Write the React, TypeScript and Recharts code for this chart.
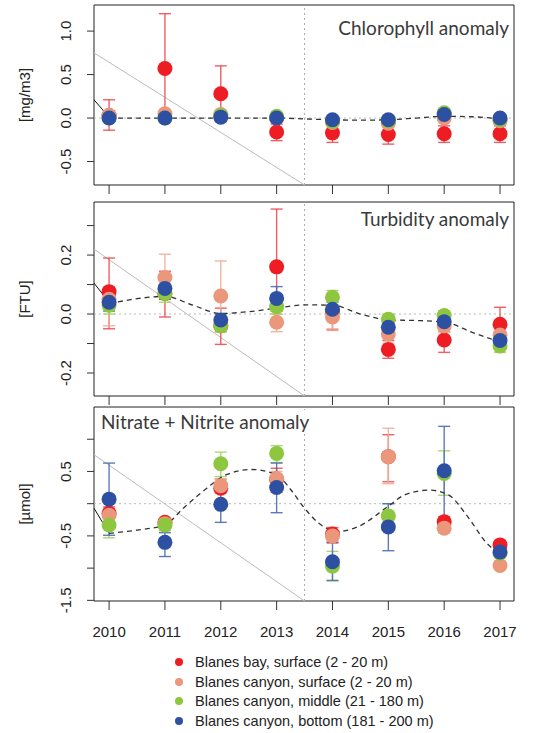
import React from "react";
import { ComposedChart, Scatter, Line, XAxis, YAxis, ErrorBar, ReferenceLine, ReferenceArea } from "recharts";

document.body.style.margin = "0";

const YEARS = [2010, 2011, 2012, 2013, 2014, 2015, 2016, 2017];
const X_DOMAIN = [2009.73, 2017.25];

const SERIES_NAMES = [
  "Blanes bay, surface (2 - 20 m)",
  "Blanes canyon, surface (2 - 20 m)",
  "Blanes canyon, middle (21 - 180 m)",
  "Blanes canyon, bottom (181 - 200 m)",
];
const COLORS = ["#EE1D24", "#EA977B", "#8DC63F", "#2E50A2"];
const ERR_COLORS = ["#EF4C52", "#F0AE98", "#A3D266", "#4D6CB4"];

// Chlorophyll anomaly [mg/m3]
const chlBay = [0.03, 0.57, 0.28, -0.16, -0.17, -0.19, -0.18, -0.18];
const chlBayLow = [-0.14, -0.05, -0.04, -0.26, -0.28, -0.3, -0.28, -0.28];
const chlBayHigh = [0.21, 1.2, 0.6, -0.07, -0.08, -0.1, -0.09, -0.09];
const chlCanSurf = [0.03, 0.05, 0.04, 0.0, -0.05, -0.06, 0.0, -0.03];
const chlCanSurfLow = [0.0, 0.01, 0.0, -0.03, -0.08, -0.1, -0.04, -0.06];
const chlCanSurfHigh = [0.06, 0.09, 0.08, 0.03, -0.02, -0.02, 0.04, 0.0];
const chlCanMid = [0.0, 0.0, 0.03, 0.02, -0.04, -0.03, 0.06, -0.02];
const chlCanMidLow = [-0.02, -0.02, 0.0, 0.0, -0.06, -0.05, 0.03, -0.04];
const chlCanMidHigh = [0.02, 0.02, 0.06, 0.04, -0.02, -0.01, 0.09, 0.0];
const chlCanBot = [0.0, 0.0, 0.01, 0.0, -0.02, -0.02, 0.04, 0.0];
const chlCanBotLow = [-0.02, -0.02, -0.01, -0.02, -0.04, -0.04, 0.02, -0.02];
const chlCanBotHigh = [0.02, 0.02, 0.03, 0.02, 0.0, 0.0, 0.06, 0.02];
const chlTrendX = [2010, 2011, 2012, 2013, 2013.5, 2014, 2014.5, 2015, 2015.5, 2016, 2016.5, 2017];
const chlTrendY = [0.0, 0.0, 0.0, 0.0, -0.01, -0.02, -0.025, -0.02, 0.0, 0.02, 0.015, -0.01];

// Turbidity anomaly [FTU]
const turBay = [0.076, 0.07, -0.04, 0.16, 0.01, -0.12, -0.088, -0.035];
const turBayLow = [-0.05, -0.01, -0.103, -0.035, -0.054, -0.15, -0.13, -0.07];
const turBayHigh = [0.19, 0.145, 0.02, 0.356, 0.059, -0.09, -0.06, 0.023];
const turCanSurf = [0.05, 0.124, 0.061, -0.028, -0.01, -0.068, -0.04, -0.071];
const turCanSurfLow = [-0.04, 0.05, -0.06, -0.06, -0.05, -0.1, -0.06, -0.09];
const turCanSurfHigh = [0.08, 0.203, 0.18, 0.0, 0.03, -0.04, -0.02, -0.05];
const turCanMid = [0.03, 0.07, -0.04, 0.025, 0.057, -0.018, -0.005, -0.108];
const turCanMidLow = [0.0, 0.04, -0.06, 0.0, 0.03, -0.04, -0.03, -0.13];
const turCanMidHigh = [0.065, 0.1, -0.01, 0.06, 0.08, 0.0, 0.01, -0.09];
const turCanBot = [0.04, 0.087, -0.02, 0.053, 0.016, -0.045, -0.026, -0.09];
const turCanBotLow = [0.01, 0.05, -0.04, 0.01, -0.01, -0.07, -0.045, -0.11];
const turCanBotHigh = [0.07, 0.12, 0.0, 0.093, 0.04, -0.02, -0.01, -0.07];
const turTrendX = [2010, 2010.5, 2011, 2011.5, 2012, 2012.5, 2013, 2013.5, 2014, 2014.5, 2015, 2015.5, 2016, 2016.5, 2017];
const turTrendY = [0.035, 0.052, 0.06, 0.03, 0.002, 0.008, 0.02, 0.031, 0.03, 0.0, -0.02, -0.022, -0.027, -0.062, -0.095];

// Nitrate + Nitrite anomaly [umol]
const nitBay = [-0.15, -0.29, 0.24, 0.38, -0.47, 0.73, -0.28, -0.64];
const nitBayLow = [-0.3, -0.38, 0.18, 0.18, -0.61, 0.34, -0.36, -0.7];
const nitBayHigh = [-0.05, -0.24, 0.38, 0.55, -0.37, 1.07, -0.2, -0.58];
const nitCanSurf = [-0.18, -0.31, 0.28, 0.39, -0.5, 0.73, -0.38, -0.96];
const nitCanSurfLow = [-0.28, -0.38, 0.16, 0.25, -0.58, 0.31, -0.45, -1.0];
const nitCanSurfHigh = [-0.08, -0.24, 0.38, 0.5, -0.42, 1.17, -0.3, -0.92];
const nitCanMid = [-0.33, -0.33, 0.62, 0.78, -0.97, -0.19, 0.47, -0.77];
const nitCanMidLow = [-0.53, -0.42, 0.42, 0.64, -1.2, -0.4, 0.13, -0.82];
const nitCanMidHigh = [-0.15, -0.25, 0.8, 0.9, -0.74, 0.0, 0.82, -0.72];
const nitCanBot = [0.07, -0.6, -0.01, 0.25, -0.9, -0.36, 0.51, -0.75];
const nitCanBotLow = [-0.49, -0.82, -0.29, -0.14, -1.19, -0.73, -0.22, -0.8];
const nitCanBotHigh = [0.63, -0.45, 0.24, 0.63, -0.6, 0.0, 1.2, -0.7];
const nitTrendX = [2010, 2010.5, 2011, 2011.33, 2011.75, 2012.1, 2012.55, 2013, 2013.25, 2013.5, 2013.75, 2014.1, 2014.45, 2015, 2015.3, 2015.73, 2016.07, 2016.42, 2016.77, 2017];
const nitTrendY = [-0.46, -0.41, -0.33, -0.07, 0.24, 0.45, 0.53, 0.45, 0.22, -0.07, -0.3, -0.43, -0.36, -0.04, 0.14, 0.21, 0.14, -0.2, -0.62, -0.78];

const toPoints = (vals: number[], low: number[], high: number[]) =>
  YEARS.map((x, i) => ({ x, y: vals[i], err: [vals[i] - low[i], high[i] - vals[i]] }));
const toLine = (xs: number[], ys: number[]) => xs.map((x, i) => ({ x, y: ys[i] }));

const FONT = "'Liberation Sans', Arial, sans-serif";

interface PanelProps {
  top: number;
  height: number;
  xAxisHeight: number;
  showXLabels: boolean;
  yDomain: number[];
  yTicks: number[];
  yLabels: number[];
  unit: string;
  series: { x: number; y: number; err: number[] }[][];
  trend: { x: number; y: number }[];
  diag: number[];
  black: number[];
}

function Panel(p: PanelProps) {
  const plotTop = 5;
  const plotBottom = p.height - p.xAxisHeight;
  const [y0, y1] = p.yDomain;

  const yTick = (props: any) => {
    const v = props.payload.value;
    const show = p.yLabels.some((l) => Math.abs(l - v) < 1e-9);
    if (!show) return <g />;
    return (
      <text x={71} y={props.y} transform={`rotate(-90 71 ${props.y})`} textAnchor="middle"
        fontSize={15} fontFamily={FONT} fill="#222">
        {v.toFixed(1)}
      </text>
    );
  };

  const xTick = (props: any) => {
    if (!p.showXLabels) return <g />;
    return (
      <text x={props.x} y={props.y} dy={23} textAnchor="middle" fontSize={15} fontFamily={FONT} fill="#222">
        {props.payload.value}
      </text>
    );
  };

  const cy = (plotTop + plotBottom) / 2;

  return (
    <div style={{ position: "absolute", left: 0, top: p.top }}>
      <ComposedChart width={534} height={p.height} margin={{ top: plotTop, right: 20, bottom: 0, left: 0 }}>
        <XAxis dataKey="x" type="number" domain={X_DOMAIN} ticks={YEARS} allowDataOverflow
          height={p.xAxisHeight} axisLine={false} tickSize={9} tickMargin={4}
          tickLine={{ stroke: "#333" }} tick={xTick} />
        <YAxis dataKey="y" type="number" domain={p.yDomain} ticks={p.yTicks} allowDataOverflow
          width={94} axisLine={false} tickSize={7} tickLine={{ stroke: "#333" }} tick={yTick}
          label={{
            content: () => (
              <text x={30} y={cy} transform={`rotate(-90 30 ${cy})`} textAnchor="middle"
                fontSize={15} fontFamily={FONT} fill="#222">
                {p.unit}
              </text>
            ),
          }} />
        <ReferenceLine y={0} stroke="#bbb" strokeDasharray="2 3" />
        <ReferenceLine x={2013.5} stroke="#aaa" strokeDasharray="2 3" />
        <ReferenceLine segment={[{ x: X_DOMAIN[0], y: p.diag[0] }, { x: 2013.5, y: p.diag[1] }]} stroke="#bbb" />
        <ReferenceLine segment={[{ x: X_DOMAIN[0], y: p.black[0] }, { x: 2010, y: p.black[1] }]} stroke="#111" />
        {p.series.map((data, i) => (
          <Scatter key={`m${i}`} name={SERIES_NAMES[i]} data={data} isAnimationActive={false}
            shape={(s: any) => <circle cx={s.cx} cy={s.cy} r={7.5} fill={COLORS[i]} />} />
        ))}
        {p.series.map((data, i) => (
          <Scatter key={`e${i}`} data={data} isAnimationActive={false} legendType="none"
            shape={() => <g />}>
            <ErrorBar dataKey="err" direction="y" width={6} stroke={ERR_COLORS[i]} strokeWidth={1.4} strokeOpacity={0.9} />
          </Scatter>
        ))}
        <Line data={p.trend} dataKey="y" type="monotone" stroke="#333" strokeWidth={1.3}
          strokeDasharray="5 4" dot={false} isAnimationActive={false} />
        <ReferenceArea x1={X_DOMAIN[0]} x2={X_DOMAIN[1]} y1={y0} y2={y1} fill="none" stroke="#222" strokeWidth={1} />
      </ComposedChart>
    </div>
  );
}

const titleStyle: React.CSSProperties = {
  position: "absolute",
  fontFamily: "Lato, 'Open Sans', sans-serif",
  fontSize: 19,
  color: "#3a3a3a",
  background: "rgba(255,255,255,0.9)",
  lineHeight: "24px",
  padding: "0 3px",
  whiteSpace: "nowrap",
};

export default function App() {
  return (
    <div style={{ position: "relative", width: 534, height: 733, background: "#fff", overflow: "hidden" }}>
      <Panel top={0} height={200} xAxisHeight={15} showXLabels={false}
        yDomain={[-0.77, 1.3]} yTicks={[-0.5, 0, 0.5, 1]} yLabels={[-0.5, 0, 0.5, 1]} unit="[mg/m3]"
        series={[
          toPoints(chlBay, chlBayLow, chlBayHigh),
          toPoints(chlCanSurf, chlCanSurfLow, chlCanSurfHigh),
          toPoints(chlCanMid, chlCanMidLow, chlCanMidHigh),
          toPoints(chlCanBot, chlCanBotLow, chlCanBotHigh),
        ]}
        trend={toLine(chlTrendX, chlTrendY)} diag={[0.75, -0.77]} black={[0.21, 0.01]} />
      <Panel top={197} height={213} xAxisHeight={14} showXLabels={false}
        yDomain={[-0.278, 0.38]} yTicks={[-0.2, -0.1, 0, 0.1, 0.2, 0.3]} yLabels={[-0.2, 0, 0.2]} unit="[FTU]"
        series={[
          toPoints(turBay, turBayLow, turBayHigh),
          toPoints(turCanSurf, turCanSurfLow, turCanSurfHigh),
          toPoints(turCanMid, turCanMidLow, turCanMidHigh),
          toPoints(turCanBot, turCanBotLow, turCanBotHigh),
        ]}
        trend={toLine(turTrendX, turTrendY)} diag={[0.22, -0.278]} black={[0.105, 0.04]} />
      <Panel top={402} height={244} xAxisHeight={45} showXLabels={true}
        yDomain={[-1.51, 1.5]} yTicks={[-1.5, -1, -0.5, 0, 0.5, 1]} yLabels={[-1.5, -0.5, 0.5]} unit="[µmol]"
        series={[
          toPoints(nitBay, nitBayLow, nitBayHigh),
          toPoints(nitCanSurf, nitCanSurfLow, nitCanSurfHigh),
          toPoints(nitCanMid, nitCanMidLow, nitCanMidHigh),
          toPoints(nitCanBot, nitCanBotLow, nitCanBotHigh),
        ]}
        trend={toLine(nitTrendX, nitTrendY)} diag={[0.76, -1.51]} black={[-0.07, -0.46]} />

      <div style={{ ...titleStyle, right: 22, top: 16 }}>Chlorophyll anomaly</div>
      <div style={{ ...titleStyle, right: 22, top: 207 }}>Turbidity anomaly</div>
      <div style={{ ...titleStyle, left: 98, top: 410 }}>Nitrate + Nitrite anomaly</div>

      <div style={{ position: "absolute", left: 175, top: 652, fontFamily: FONT, fontSize: 14.5, color: "#222" }}>
        {SERIES_NAMES.map((name, i) => (
          <div key={name} style={{ display: "flex", alignItems: "center", height: 19.7 }}>
            <span style={{ width: 8, height: 8, borderRadius: 4, background: COLORS[i], marginRight: 12 }} />
            <span>{name}</span>
          </div>
        ))}
      </div>
    </div>
  );
}
